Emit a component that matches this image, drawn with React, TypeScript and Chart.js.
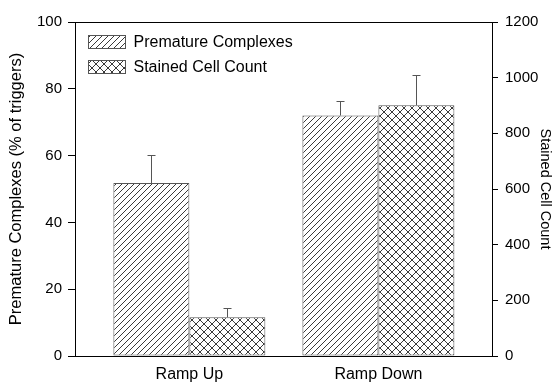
import React, { useEffect, useRef } from "react";
import { Chart, registerables } from "chart.js";

Chart.register(...registerables);

const categories = ["Ramp Up", "Ramp Down"];
const prematureValues = [51.8, 72];
const prematureErrors = [8.4, 4.2];
const stainedValues = [139, 901];
const stainedErrors = [33, 110];
const seriesLabels = ["Premature Complexes", "Stained Cell Count"];
const leftTitle = "Premature Complexes (% of triggers)";
const rightTitle = "Stained Cell Count";

const FONT = "'Liberation Sans', Arial, Helvetica, sans-serif";

function makeHatch(size: number, cross: boolean): CanvasPattern | string {
  const c = document.createElement("canvas");
  c.width = size;
  c.height = size;
  const g = c.getContext("2d");
  if (!g) return "#fff";
  g.fillStyle = "#ffffff";
  g.fillRect(0, 0, size, size);
  g.strokeStyle = "#3a3a3a";
  g.lineWidth = 1;
  g.beginPath();
  g.moveTo(-1, size + 1);
  g.lineTo(size + 1, -1);
  g.moveTo(-1, 1);
  g.lineTo(1, -1);
  g.moveTo(size - 1, size + 1);
  g.lineTo(size + 1, size - 1);
  if (cross) {
    g.moveTo(-1, -1);
    g.lineTo(size + 1, size + 1);
    g.moveTo(size - 1, -1);
    g.lineTo(size + 1, 1);
    g.moveTo(-1, size - 1);
    g.lineTo(1, size + 1);
  }
  g.stroke();
  const p = g.createPattern(c, "repeat");
  return p || "#fff";
}

export default function App() {
  const ref = useRef<HTMLCanvasElement | null>(null);

  useEffect(() => {
    document.body.style.margin = "0";
    const canvas = ref.current;
    if (!canvas) return;
    const diag = makeHatch(6, false);
    const cross = makeHatch(8, true);
    const errorsByDataset = [prematureErrors, stainedErrors];

    const errorBars = {
      id: "errorBars",
      afterDatasetsDraw(chart: any) {
        const ctx = chart.ctx;
        ctx.save();
        ctx.strokeStyle = "#555";
        ctx.lineWidth = 1;
        chart.data.datasets.forEach((ds: any, di: number) => {
          const meta = chart.getDatasetMeta(di);
          const yScale = chart.scales[ds.yAxisID];
          meta.data.forEach((el: any, i: number) => {
            const v = ds.data[i].y;
            const e = errorsByDataset[di][i];
            const x = Math.round(el.x) + 0.5;
            const y0 = yScale.getPixelForValue(v);
            const y1 = Math.round(yScale.getPixelForValue(v + e)) + 0.5;
            ctx.beginPath();
            ctx.moveTo(x, y0);
            ctx.lineTo(x, y1);
            ctx.moveTo(x - 4, y1);
            ctx.lineTo(x + 4, y1);
            ctx.stroke();
          });
        });
        ctx.restore();
      },
    };

    const frameAndLegend = {
      id: "frameAndLegend",
      afterDraw(chart: any) {
        const ctx = chart.ctx;
        const a = chart.chartArea;
        ctx.save();
        ctx.strokeStyle = "#000";
        ctx.lineWidth = 1;
        ctx.beginPath();
        ctx.moveTo(a.left, Math.round(a.top) + 0.5);
        ctx.lineTo(a.right, Math.round(a.top) + 0.5);
        ctx.stroke();
        ctx.font = `16px ${FONT}`;
        ctx.textBaseline = "middle";
        ctx.fillStyle = "#000";
        chart.data.datasets.forEach((ds: any, i: number) => {
          const bx = Math.round(a.left) + 13.5;
          const by = Math.round(a.top) + 13.5 + i * 25;
          ctx.fillStyle = ds.backgroundColor;
          ctx.fillRect(bx, by, 37, 13);
          ctx.strokeStyle = "#555";
          ctx.strokeRect(bx, by, 37, 13);
          ctx.fillStyle = "#000";
          ctx.fillText(ds.label, bx + 45, by + 7);
        });
        ctx.restore();
      },
    };

    const chart = new Chart(canvas, {
      type: "bar",
      data: {
        datasets: [
          {
            label: seriesLabels[0],
            data: categories.map((_, i) => ({ x: i, y: prematureValues[i] })),
            yAxisID: "y",
            backgroundColor: diag as any,
            borderColor: "#555",
            borderWidth: 1,
            borderSkipped: false,
            barPercentage: 1,
            categoryPercentage: 0.804,
          },
          {
            label: seriesLabels[1],
            data: categories.map((_, i) => ({ x: i, y: stainedValues[i] })),
            yAxisID: "y2",
            backgroundColor: cross as any,
            borderColor: "#555",
            borderWidth: 1,
            borderSkipped: false,
            barPercentage: 1,
            categoryPercentage: 0.804,
          },
        ],
      },
      options: {
        responsive: false,
        animation: false,
        devicePixelRatio: 1,
        layout: { padding: { top: 22, left: 0, right: 0, bottom: 0 } },
        font: { family: FONT, size: 15 },
        plugins: {
          legend: { display: false },
          tooltip: { enabled: false },
        },
        scales: {
          x: {
            type: "linear",
            position: "bottom",
            min: -0.605,
            max: 1.601,
            offset: false,
            afterBuildTicks(scale: any) {
              scale.ticks = categories.map((_, i) => ({ value: i }));
            },
            afterFit(scale: any) {
              scale.height = 27;
            },
            grid: { display: false, drawTicks: false },
            border: { display: true, color: "#000", width: 1 },
            ticks: {
              autoSkip: false,
              maxRotation: 0,
              minRotation: 0,
              padding: 9,
              color: "#000",
              font: { family: FONT, size: 16 },
              callback: (v: any) => categories[Number(v)] ?? "",
            },
          },
          y: {
            type: "linear",
            position: "left",
            min: 0,
            max: 100,
            afterFit(scale: any) {
              scale.width = 75;
            },
            grid: { drawOnChartArea: false, drawTicks: true, tickLength: 7, color: "#000" },
            border: { display: true, color: "#000", width: 1 },
            ticks: {
              stepSize: 20,
              padding: 6,
              color: "#000",
              font: { family: FONT, size: 15 },
              callback: (v: any) => String(v),
            },
            title: {
              display: true,
              text: leftTitle,
              color: "#000",
              padding: { top: 7, bottom: 0 },
              font: { family: FONT, size: 16.5 },
            },
          },
          y2: {
            type: "linear",
            position: "right",
            min: 0,
            max: 1200,
            afterFit(scale: any) {
              scale.width = 68;
            },
            grid: { drawOnChartArea: false, drawTicks: true, tickLength: 6, color: "#000" },
            border: { display: true, color: "#000", width: 1 },
            ticks: {
              stepSize: 200,
              padding: 7,
              color: "#000",
              font: { family: FONT, size: 15 },
              callback: (v: any) => String(v),
            },
            title: {
              display: true,
              text: rightTitle,
              color: "#000",
              padding: { top: 6, bottom: 0 },
              font: { family: FONT, size: 14.5 },
            },
          },
        },
      } as any,
      plugins: [errorBars, frameAndLegend],
    });
    return () => chart.destroy();
  }, []);

  return (
    <div style={{ position: "absolute", left: 0, top: 0, width: 560, height: 383, background: "#fff" }}>
      <canvas ref={ref} width={560} height={383} style={{ display: "block" }} />
    </div>
  );
}
